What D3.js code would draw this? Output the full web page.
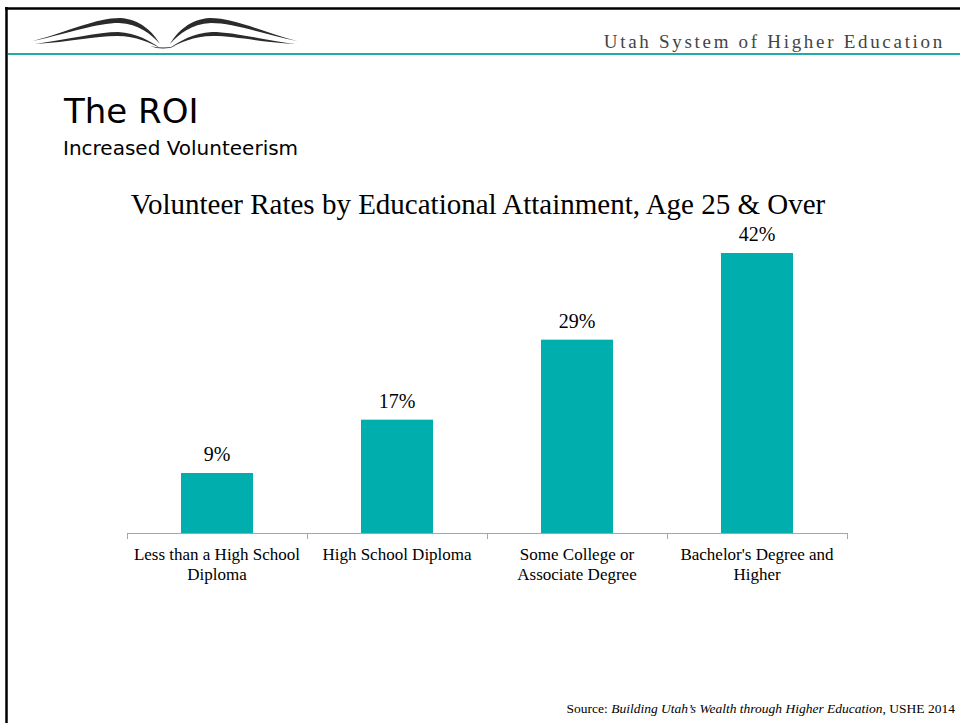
<!DOCTYPE html>
<html>
<head>
<meta charset="utf-8">
<script src="https://cdn.jsdelivr.net/npm/d3@7"></script>
<style>
  html, body { margin: 0; padding: 0; background: #fff; }
  svg { display: block; }
</style>
</head>
<body>
<svg id="slide" width="960" height="723"></svg>
<script>
const categories = [
  ["Less than a High School", "Diploma"],
  ["High School Diploma"],
  ["Some College or", "Associate Degree"],
  ["Bachelor's Degree and", "Higher"]
];
const rates = [9, 17, 29, 42];

const chartTitle = "Volunteer Rates by Educational Attainment, Age 25 & Over";
const serif = "'Liberation Serif', 'Times New Roman', serif";
const sans = "'DejaVu Sans', Verdana, sans-serif";
const teal = "#00aeae";

const svg = d3.select("#slide");

// slide frame
svg.append("line")
  .attr("x1", 5).attr("x2", 960).attr("y1", 8.5).attr("y2", 8.5)
  .attr("stroke", "#000").attr("stroke-width", 2.5);
svg.append("line")
  .attr("x1", 6.5).attr("x2", 6.5).attr("y1", 7).attr("y2", 723)
  .attr("stroke", "#000").attr("stroke-width", 2.5);
svg.append("line")
  .attr("x1", 8).attr("x2", 960).attr("y1", 54).attr("y2", 54)
  .attr("stroke", "#22aaaa").attr("stroke-width", 2);

// book logo, left half drawn then mirrored
const wing = svg.append("g").attr("fill", "#2b2b2b");
const wingPaths = [
  "M33,41 C70,31 96,18 120,18 C140,19 153,32 160,44 C151,34 139,24 119,23 C97,23 70,33 33,41 Z",
  "M35,44 C70,39 98,32 118,32 C137,33 150,41 160,48 C150,43 137,36 117,36 C95,36 70,42 35,44 Z",
  "M150,46 Q163,51 176,46 Q163,49 150,46 Z"
];
wing.selectAll("path.l").data(wingPaths).join("path")
  .attr("class", "l").attr("d", d => d);
wing.selectAll("path.r").data(wingPaths.slice(0, 2)).join("path")
  .attr("class", "r").attr("d", d => d)
  .attr("transform", "translate(330,0) scale(-1,1)");

svg.append("text")
  .attr("x", 945).attr("y", 48)
  .attr("text-anchor", "end")
  .attr("font-family", serif)
  .attr("font-size", 19)
  .attr("letter-spacing", 2.7)
  .attr("fill", "#444")
  .text("Utah System of Higher Education");

svg.append("text")
  .attr("x", 64).attr("y", 123)
  .attr("font-family", sans)
  .attr("font-size", 34)
  .attr("fill", "#000")
  .text("The ROI");

svg.append("text")
  .attr("x", 63).attr("y", 155)
  .attr("font-family", sans)
  .attr("font-size", 20)
  .attr("fill", "#000")
  .text("Increased Volunteerism");

svg.append("text")
  .attr("x", 478).attr("y", 214)
  .attr("text-anchor", "middle")
  .attr("font-family", serif)
  .attr("font-size", 29)
  .attr("fill", "#000")
  .text(chartTitle);

// chart
const x = d3.scaleBand()
  .domain(d3.range(categories.length))
  .range([127, 847])
  .paddingInner(0.6).paddingOuter(0.3);
const y = d3.scaleLinear().domain([0, 45]).range([533, 233]);

const axisX0 = 127, axisX1 = 847;

const plot = svg.append("g");

plot.selectAll("rect.bar").data(rates).join("rect")
  .attr("class", "bar")
  .attr("x", (d, i) => x(i))
  .attr("width", x.bandwidth())
  .attr("y", d => y(d))
  .attr("height", d => y(0) - y(d))
  .attr("fill", teal);

plot.selectAll("text.val").data(rates).join("text")
  .attr("class", "val")
  .attr("x", (d, i) => x(i) + x.bandwidth() / 2)
  .attr("y", d => y(d) - 12)
  .attr("text-anchor", "middle")
  .attr("font-family", serif)
  .attr("font-size", 20)
  .text(d => d + "%");

// axis line with ticks between categories
plot.append("line")
  .attr("x1", axisX0).attr("x2", axisX1)
  .attr("y1", y(0) + 0.5).attr("y2", y(0) + 0.5)
  .attr("stroke", "#a6a6a6");
plot.selectAll("line.tick").data(d3.range(categories.length + 1)).join("line")
  .attr("class", "tick")
  .attr("x1", d => axisX0 + d * (axisX1 - axisX0) / categories.length + 0.5)
  .attr("x2", d => axisX0 + d * (axisX1 - axisX0) / categories.length + 0.5)
  .attr("y1", y(0)).attr("y2", y(0) + 6)
  .attr("stroke", "#a6a6a6");

const lbl = plot.selectAll("text.cat").data(categories).join("text")
  .attr("class", "cat")
  .attr("text-anchor", "middle")
  .attr("font-family", serif)
  .attr("font-size", 17)
  .attr("fill", "#000");
lbl.selectAll("tspan").data(d => d).join("tspan")
  .attr("x", function () {
    const i = categories.indexOf(d3.select(this.parentNode).datum());
    return x(i) + x.bandwidth() / 2;
  })
  .attr("y", (d, j) => 560 + j * 20)
  .text(d => d);

const src = svg.append("text")
  .attr("x", 955).attr("y", 713)
  .attr("text-anchor", "end")
  .attr("font-family", serif)
  .attr("font-size", 13.5);
src.append("tspan").text("Source: ");
src.append("tspan").attr("font-style", "italic").text("Building Utah\u2019s Wealth through Higher Education");
src.append("tspan").text(", USHE 2014");
</script>
</body>
</html>
